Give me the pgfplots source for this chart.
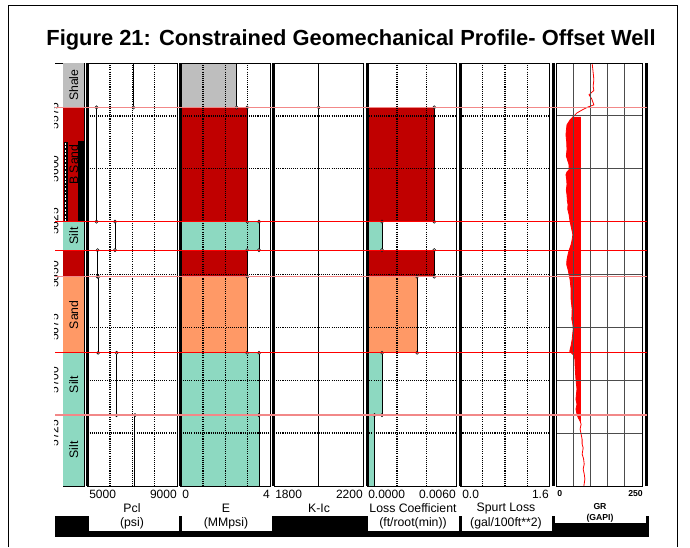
\documentclass[border=0pt]{standalone}
\usepackage{fontspec}
\setmainfont{Liberation Sans}
\usepackage{graphicx}
\usepackage{pgfplots}
\pgfplotsset{compat=1.18}
\definecolor{shale}{HTML}{BEBEBE}
\definecolor{bsand}{HTML}{C00000}
\definecolor{silt}{HTML}{8DD9C1}
\definecolor{sand}{HTML}{FF9966}
\definecolor{grred}{HTML}{FF0000}
\definecolor{lred}{HTML}{F28888}
\newcommand{\tks}{\fontsize{9}{10}\selectfont}
\newcommand{\lbs}{\fontsize{9.2}{10}\selectfont}
\pgfplotsset{
 track/.style={scale only axis, anchor=north west, width=67.125pt, height=317.25pt,
   ymin=5550, ymax=5750, y dir=reverse, scaled ticks=false,
   ytick={5575,5600,5625,5650,5675,5700,5725}, yticklabels={}, xticklabels={},
   major tick length=0pt, tick style={draw=none},
   grid=major, grid style={black, line width=1pt, dash pattern=on 0.8pt off 0.8pt},
   axis on top, axis line style={black, line width=0.6pt}},
 stepl/.style={black, line width=0.7pt, mark=*, mark size=1.2pt,
   mark options={fill=white, draw=black, line width=0.4pt}},
}
\begin{document}
\begin{tikzpicture}
\begin{scope}[x=0.75pt,y=-0.75pt]
\fill[white] (0,0) rectangle (690,547);
\end{scope}

% ---------- lithology column ----------
\begin{axis}[scale only axis, anchor=north west, at={(47.25pt,-47.25pt)}, width=16pt, height=317.25pt,
  xmin=0, xmax=1, ymin=5550, ymax=5750, y dir=reverse, xtick=\empty,
  ytick={5575,5600,5625,5650,5675,5700,5725},
  yticklabels={5575,5600,5625,5650,5675,5700,5725},
  yticklabel style={xshift=-3.5pt, rotate=90, anchor=base, font=\fontsize{9}{10}\selectfont},
  major tick length=0pt, tick style={draw=none},
  axis line style={black, line width=0.6pt}, clip=false]
\addplot[fill=shale, draw=none] coordinates {(0,5550) (1,5550) (1,5571) (0,5571)};
\addplot[fill=bsand, draw=none] coordinates {(0,5571) (1,5571) (1,5625) (0,5625)};
\addplot[fill=silt, draw=none] coordinates {(0,5625) (1,5625) (1,5638.5) (0,5638.5)};
\addplot[fill=bsand, draw=none] coordinates {(0,5638.5) (1,5638.5) (1,5651) (0,5651)};
\addplot[fill=sand, draw=none] coordinates {(0,5651) (1,5651) (1,5687) (0,5687)};
\addplot[fill=silt, draw=none] coordinates {(0,5687) (1,5687) (1,5716.5) (0,5716.5)};
\addplot[fill=silt, draw=none] coordinates {(0,5716.5) (1,5716.5) (1,5750) (0,5750)};
\end{axis}
\begin{scope}[x=0.75pt,y=-0.75pt]
% depth labels are cut off in the reference
\fill[white] (40,60) rectangle (53.5,490);
% ladder / strip artefacts in B Sand
\fill[black] (63.5,142) rectangle (67.5,222);
\draw[white, line width=1.4pt, dash pattern=on 1.4pt off 1.2pt] (65.5,143) -- (65.5,221);
\fill[black] (78,141) rectangle (84.3,222);
\end{scope}
\begin{axis}[scale only axis, anchor=north west, at={(47.25pt,-47.25pt)}, width=16pt, height=317.25pt,
  xmin=0, xmax=1, ymin=5550, ymax=5750, y dir=reverse, hide axis, clip=false]
\node[rotate=90, font=\lbs] at (axis cs:0.5,5560.5) {Shale};
\node[rotate=90, font=\lbs] at (axis cs:0.5,5598) {B Sand};
\node[rotate=90, font=\lbs] at (axis cs:0.5,5631.8) {Silt};
\node[rotate=90, font=\lbs] at (axis cs:0.5,5669) {Sand};
\node[rotate=90, font=\lbs] at (axis cs:0.5,5702) {Silt};
\node[rotate=90, font=\lbs] at (axis cs:0.5,5733) {Silt};
\end{axis}

% ---------- Track 1: Pcl ----------
\begin{axis}[track, at={(65.625pt,-47.25pt)}, xmin=5000, xmax=9000, xtick={6000,7000,8000}]
\addplot[stepl, mark indices={2,...,13}] coordinates {
 (7050,5550) (7050,5571) (5400,5571) (5400,5625) (6230,5625) (6230,5638.5)
 (5450,5638.5) (5450,5651) (5480,5651) (5480,5687) (6300,5687) (6300,5716.5)
 (7120,5716.5) (7120,5750)};
\end{axis}

% ---------- Track 2: E ----------
\begin{axis}[track, at={(135.525pt,-47.25pt)}, xmin=0, xmax=4, xtick={1,2,3}]
\addplot[fill=shale, draw=none] coordinates {(0,5550) (2.5,5550) (2.5,5571) (0,5571)};
\addplot[fill=bsand, draw=none] coordinates {(0,5571) (2.97,5571) (2.97,5625) (0,5625)};
\addplot[fill=silt, draw=none] coordinates {(0,5625) (3.5,5625) (3.5,5638.5) (0,5638.5)};
\addplot[fill=bsand, draw=none] coordinates {(0,5638.5) (2.97,5638.5) (2.97,5651) (0,5651)};
\addplot[fill=sand, draw=none] coordinates {(0,5651) (2.97,5651) (2.97,5687) (0,5687)};
\addplot[fill=silt, draw=none] coordinates {(0,5687) (3.5,5687) (3.5,5716.5) (0,5716.5)};
\addplot[fill=silt, draw=none] coordinates {(0,5716.5) (3.5,5716.5) (3.5,5750) (0,5750)};
\addplot[stepl, mark indices={2,...,13}] coordinates {
 (2.5,5550) (2.5,5571) (2.97,5571) (2.97,5625) (3.5,5625) (3.5,5638.5)
 (2.97,5638.5) (2.97,5651) (2.97,5651) (2.97,5687) (3.5,5687) (3.5,5716.5)
 (3.5,5716.5) (3.5,5750)};
\end{axis}

% ---------- Track 3: K-Ic ----------
\begin{axis}[track, at={(205.425pt,-47.25pt)}, xmin=1800, xmax=2200, xtick=\empty, xmajorgrids=false]
\addplot[stepl, mark indices={2}] coordinates {(2000,5550) (2000,5571) (2000,5750)};
\end{axis}

% ---------- Track 4: Loss coefficient ----------
\begin{axis}[track, at={(275.325pt,-47.25pt)}, xmin=0, xmax=0.006, xtick={0.002,0.004}]
\addplot[fill=bsand, draw=none] coordinates {(0,5571) (0.0045,5571) (0.0045,5625) (0,5625)};
\addplot[fill=silt, draw=none] coordinates {(0,5625) (0.001,5625) (0.001,5638.5) (0,5638.5)};
\addplot[fill=bsand, draw=none] coordinates {(0,5638.5) (0.0045,5638.5) (0.0045,5651) (0,5651)};
\addplot[fill=sand, draw=none] coordinates {(0,5651) (0.00335,5651) (0.00335,5687) (0,5687)};
\addplot[fill=silt, draw=none] coordinates {(0,5687) (0.001,5687) (0.001,5716.5) (0,5716.5)};
\addplot[fill=silt, draw=none] coordinates {(0,5716.5) (0.0005,5716.5) (0.0005,5750) (0,5750)};
\addplot[stepl, mark indices={2,...,13}] coordinates {
 (0,5550) (0,5571) (0.0045,5571) (0.0045,5625) (0.001,5625) (0.001,5638.5)
 (0.0045,5638.5) (0.0045,5651) (0.00335,5651) (0.00335,5687) (0.001,5687) (0.001,5716.5)
 (0.0005,5716.5) (0.0005,5750)};
\end{axis}

% ---------- Track 5: Spurt loss ----------
\begin{axis}[track, at={(345.225pt,-47.25pt)}, xmin=0, xmax=1.6, xtick={0.4,0.8,1.2}]
\addplot[stepl, mark indices={2}] coordinates {(0,5550) (0,5571) (0,5750)};
\end{axis}

% ---------- Track 6: GR ----------
\begin{axis}[track, at={(417pt,-47.25pt)}, width=64.5pt, xmin=0, xmax=250, xtick={50,100,150,200},
  grid style={black!70, line width=0.8pt, solid}]
\addplot[fill=grred, draw=none] coordinates {
 (49,5575.5) (41,5576.9) (32,5579.2) (30,5582) (29,5584) (31,5587) (32,5591) (30,5594)
 (38,5598.1) (38,5600.5) (32,5601.5) (29,5602.8) (31,5605) (32,5607.5) (30,5610) (32,5612.3)
 (33,5615) (35,5617) (34,5619) (38,5621.7) (41,5625) (46,5628.8) (49,5631.1) (47,5633.5)
 (44,5635.8) (38,5638.7) (35,5640.6) (32,5642.9) (31,5645.3) (35,5647.6) (38,5650)
 (41,5652.4) (44,5657.1) (44,5661.8) (47,5666.5) (46,5671.2) (49,5673.6) (50,5675.9)
 (47,5680.7) (44,5683.5) (40,5686.3) (52,5688.2) (55,5690.1) (56,5694.8) (58,5699.5)
 (61,5704.2) (58,5709) (61,5711.3) (58,5713.7) (61,5716) (64,5717.5) (70,5719.3) (72,5720.3)
 (72,5575.5)};
\addplot[grred, line width=0.6pt] coordinates {
 (105,5550) (107,5553) (109,5556) (110,5558) (108,5561) (110,5563) (96,5565) (104,5567)
 (110,5569.8) (93,5570.8) (76,5572.2) (61,5573.6) (49,5575.5) (41,5576.9) (32,5579.2)
 (30,5582) (29,5584) (31,5587) (32,5591) (30,5594) (38,5598.1) (38,5600.5) (32,5601.5)
 (29,5602.8) (31,5605) (32,5607.5) (30,5610) (32,5612.3) (33,5615) (35,5617) (34,5619)
 (38,5621.7) (41,5625) (46,5628.8) (49,5631.1) (47,5633.5) (44,5635.8) (38,5638.7)
 (35,5640.6) (32,5642.9) (31,5645.3) (35,5647.6) (38,5650) (41,5652.4) (44,5657.1)
 (44,5661.8) (47,5666.5) (46,5671.2) (49,5673.6) (50,5675.9) (47,5680.7) (44,5683.5)
 (40,5686.3) (52,5688.2) (55,5690.1) (56,5694.8) (58,5699.5) (61,5704.2) (58,5709)
 (61,5711.3) (58,5713.7) (61,5716) (64,5717.5) (70,5719.3) (73,5720.8) (70,5723.1)
 (73,5725.5) (76,5728) (76,5730.2) (79,5732) (76,5734.9) (80,5737) (82,5739.6) (79,5742)
 (82,5744.3) (84,5746.7) (81,5750)};
\end{axis}

\begin{scope}[x=0.75pt,y=-0.75pt]
\draw[line width=0.6pt] (55,63) -- (63,63);
% thick track borders
\foreach \L in {87.5,180.7,273.9,367.1,460.3,553.5,646.5}
  \draw[line width=2.25pt] (\L,63) -- (\L,486);
\end{scope}

% ---------- layer boundary lines ----------
\begin{axis}[scale only axis, anchor=north west, at={(41.25pt,-47.25pt)}, width=444pt, height=317.25pt,
  xmin=0, xmax=1, ymin=5550, ymax=5750, y dir=reverse, hide axis, clip=false]
\addplot[lred, line width=1.2pt] coordinates {(0,5571) (1,5571)};
\addplot[grred, line width=0.8pt] coordinates {(0,5625) (1,5625)};
\addplot[grred, line width=0.8pt] coordinates {(0,5638.5) (1,5638.5)};
\addplot[lred, line width=1.2pt] coordinates {(0,5651) (1,5651)};
\addplot[grred, line width=0.8pt] coordinates {(0,5687) (1,5687)};
\addplot[lred, line width=1.2pt] coordinates {(0,5716.5) (1,5716.5)};
\end{axis}

% ---------- headers ----------
\begin{scope}[x=0.75pt,y=-0.75pt]
\fill[black] (55,516) rectangle (649,537);
\fill[white] (89,486.5) rectangle (179,531);
\fill[white] (182,486.5) rectangle (272,531);
\fill[white] (275,486.5) rectangle (364,516);
\fill[white] (368,486.5) rectangle (459,531);
\fill[white] (462,486.5) rectangle (552,531);
\fill[white] (555,486.5) rectangle (646,523);
\begin{scope}[every node/.style={inner sep=0pt}]
\node[anchor=west, font=\tks] at (89,494) {5000};
\node[anchor=east, font=\tks] at (177,494) {9000};
\node[font=\lbs] at (132,508) {Pcl};
\node[font=\lbs] at (132,523) {(psi)};
\node[anchor=west, font=\tks] at (182,494) {0};
\node[anchor=east, font=\tks] at (270,494) {4};
\node[font=\lbs] at (226,508) {E};
\node[font=\lbs] at (226,523) {(MMpsi)};
\node[anchor=west, font=\tks] at (275,494) {1800};
\node[anchor=east, font=\tks] at (363,494) {2200};
\node[font=\lbs] at (319,508) {K-Ic};
\node[anchor=west, font=\tks] at (368,494) {0.0000};
\node[anchor=east, font=\tks] at (456,494) {0.0060};
\node[font=\lbs] at (413,508) {Loss Coefficient};
\node[font=\lbs] at (413,523) {(ft/root(min))};
\node[anchor=west, font=\tks] at (462,494) {0.0};
\node[anchor=east, font=\tks] at (549,494) {1.6};
\node[font=\lbs] at (506,508) {Spurt Loss};
\node[font=\lbs] at (506,523) {(gal/100ft**2)};
\node[anchor=west, font=\bfseries\fontsize{6.5}{7}\selectfont] at (557,494) {0};
\node[anchor=east, font=\bfseries\fontsize{6.5}{7}\selectfont] at (643,494) {250};
\node[font=\bfseries\fontsize{6.5}{7}\selectfont] at (600,507) {GR};
\node[font=\bfseries\fontsize{6.5}{7}\selectfont] at (600,518) {(GAPI)};
\node[anchor=base, font=\bfseries\fontsize{16.4}{18}\selectfont] at (351,45)
  {Figure 21: Constrained Geomechanical Profile- Offset Well};
\end{scope}
% outer frame
\draw[line width=0.75pt] (8,547) -- (8,5) -- (677,5) -- (677,547);
\end{scope}
\pgfresetboundingbox
\begin{scope}[x=0.75pt,y=-0.75pt]
\useasboundingbox (0,0) rectangle (690,547);
\end{scope}
\end{tikzpicture}
\end{document}
